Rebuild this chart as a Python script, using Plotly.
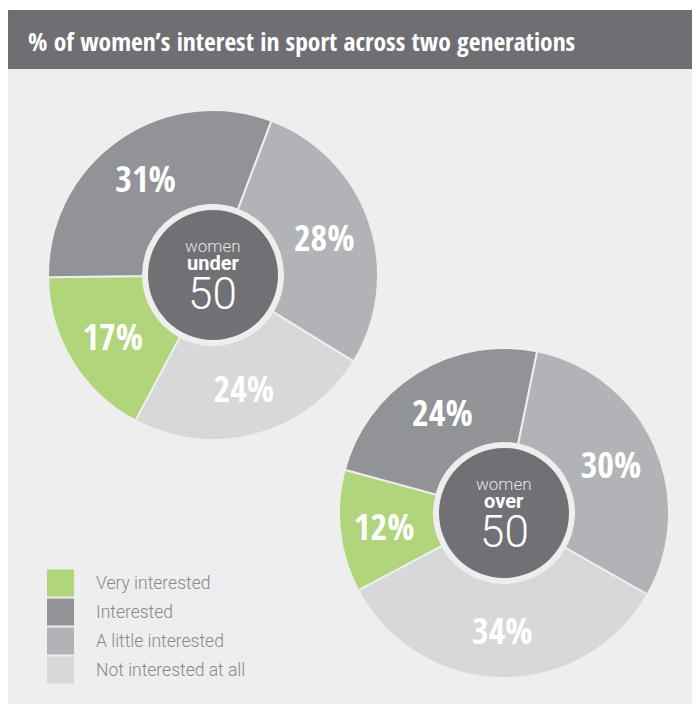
import plotly.graph_objects as go

W, H = 692, 700

categories = ["Very interested", "Interested", "A little interested", "Not interested at all"]
colors = ["#b0d57a", "#929397", "#b2b3b6", "#d7d8da"]
under50 = [17, 31, 28, 24]
over50 = [12, 24, 30, 34]
groups = [("women", "under", "50"), ("women", "over", "50")]

BG = "#eeeeee"
DARK = "#717074"
COND = "Open Sans Condensed, Roboto Condensed, sans-serif"
LIGHT = "Roboto, Lato, sans-serif"


def px(x, y):
    # page pixel -> paper coords (the page body has an 8px margin)
    return (x - 8) / W, 1 - (y - 8) / H


# pie centres / radii in page pixels
pies = [
    dict(values=under50, cx=213, cy=275, r=165, rot=208),
    dict(values=over50, cx=504, cy=513, r=165, rot=242),
]
hole_r = 70
inner_r = 65

fig = go.Figure()
shapes = []
annotations = []

# background and title bar
bx0, by1 = px(8, 69)
bx1, by0 = px(700, 704)
shapes.append(dict(type="rect", xref="paper", yref="paper", x0=bx0, x1=bx1, y0=by0, y1=by1,
                   fillcolor=BG, line_width=0, layer="below"))
tx0, ty1 = px(8, 10)
tx1, ty0 = px(700, 69)
shapes.append(dict(type="rect", xref="paper", yref="paper", x0=tx0, x1=tx1, y0=ty0, y1=ty1,
                   fillcolor="#6f6e72", line_width=0, layer="below"))
ttx, tty = px(26, 41)
annotations.append(dict(text="% of women’s interest in sport across two generations",
                        xref="paper", yref="paper", x=ttx, y=tty,
                        xanchor="left", yanchor="middle", showarrow=False,
                        font=dict(family=COND, size=25.5, color="white", weight=700)))

for p, g in zip(pies, groups):
    x0, y1 = px(p["cx"] - p["r"], p["cy"] - p["r"])
    x1, y0 = px(p["cx"] + p["r"], p["cy"] + p["r"])
    fig.add_trace(go.Pie(
        labels=categories, values=p["values"], sort=False, direction="clockwise",
        rotation=p["rot"], hole=hole_r / p["r"],
        domain=dict(x=[x0, x1], y=[y0, y1]),
        marker=dict(colors=colors, line=dict(color=BG, width=2)),
        texttemplate="%{value}%", textposition="inside",
        insidetextorientation="horizontal",
        textfont=dict(family=COND, size=36, color="white", weight=700),
        showlegend=False, hoverinfo="label+value"))
    cx0, cy1 = px(p["cx"] - inner_r, p["cy"] - inner_r)
    cx1, cy0 = px(p["cx"] + inner_r, p["cy"] + inner_r)
    shapes.append(dict(type="circle", xref="paper", yref="paper",
                       x0=cx0, x1=cx1, y0=cy0, y1=cy1,
                       fillcolor=DARK, line_width=0))
    for txt, dy, size, weight, col in [(g[0], -29, 17, 300, "#e4e4e4"),
                                       (g[1], -12, 20, 700, "white"),
                                       (g[2], 19, 44, 300, "white")]:
        ax, ay = px(p["cx"], p["cy"] + dy)
        annotations.append(dict(text=txt, xref="paper", yref="paper", x=ax, y=ay,
                                xanchor="center", yanchor="middle", showarrow=False,
                                font=dict(family=LIGHT, size=size, color=col, weight=weight)))

# legend
for i, (lab, col) in enumerate(zip(categories, colors)):
    yc = 583 + i * 29
    sx0, sy1 = px(47, yc - 13.5)
    sx1, sy0 = px(74, yc + 13.5)
    shapes.append(dict(type="rect", xref="paper", yref="paper",
                       x0=sx0, x1=sx1, y0=sy0, y1=sy1, fillcolor=col, line_width=0))
    lx, ly = px(94, yc)
    annotations.append(dict(text=lab, xref="paper", yref="paper", x=lx, y=ly,
                            xanchor="left", yanchor="middle", showarrow=False,
                            font=dict(family=LIGHT, size=17.5, color="#88888b", weight=300)))

fig.update_layout(width=W, height=H, margin=dict(l=0, r=0, t=0, b=0),
                  paper_bgcolor="white", plot_bgcolor="white",
                  shapes=shapes, annotations=annotations)
fig.write_html("out.html")
